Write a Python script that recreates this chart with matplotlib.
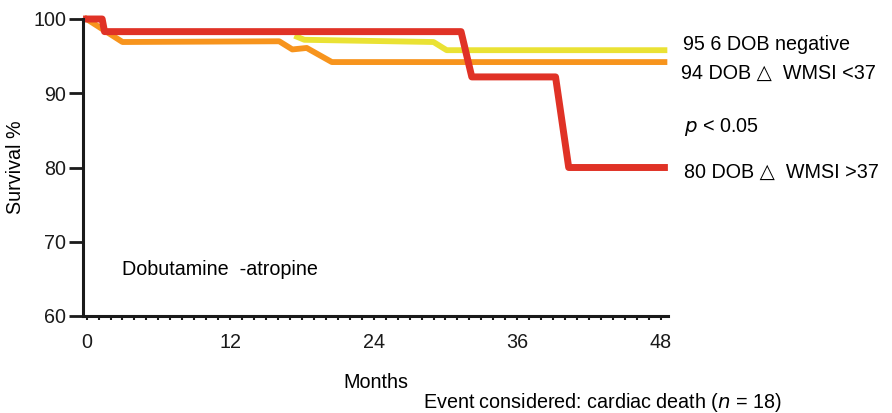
import numpy as np
import matplotlib
matplotlib.use("Agg")
from matplotlib import pyplot as plt

plt.rcParams['font.family'] = ['Liberation Sans', 'DejaVu Sans']

# Kaplan-Meier style curves (months, survival %)
neg_months = [17.6, 18.2, 29.0, 30.1, 48.3]
neg_surv = [97.6, 97.2, 96.9, 95.8, 95.8]

low_months = [0, 3.0, 16.1, 17.2, 18.4, 20.5, 48.3]
low_surv = [100, 96.9, 97.0, 95.9, 96.1, 94.2, 94.2]

high_months = [0, 1.3, 1.5, 31.3, 32.2, 39.2, 40.3, 48.3]
high_surv = [100, 100, 98.3, 98.3, 92.2, 92.2, 80.0, 80.0]

x_ticks = [0, 12, 24, 36, 48]
y_ticks = [60, 70, 80, 90, 100]

labels = ["95 6 DOB negative", "94 DOB \u25b3  WMSI <37", "80 DOB \u25b3  WMSI >37"]
colors = ["#EAE234", "#F7941D", "#E03226"]

FS = 14.2
W, H = 892, 413
fig = plt.figure(figsize=(W / 100, H / 100), dpi=100)
ax = fig.add_axes([83 / W, (H - 316) / H, (668 - 83) / W, (316 - 19) / H])

ax.plot(neg_months, neg_surv, color=colors[0], lw=4.2, solid_joinstyle='round', clip_on=False)
ax.plot(low_months, low_surv, color=colors[1], lw=4.2, solid_joinstyle='round', clip_on=False)
ax.plot(high_months, high_surv, color=colors[2], lw=5, solid_joinstyle='round', clip_on=False)

ax.set_xlim(-0.3, 48.6)
ax.set_ylim(60, 100)
for s in ['top', 'right']:
    ax.spines[s].set_visible(False)
for s in ['left', 'bottom']:
    ax.spines[s].set_linewidth(2.2)
    ax.spines[s].set_color('#1a1a1a')

ax.set_yticks(y_ticks)
ax.tick_params(axis='y', length=10, width=2, labelsize=FS, pad=2, colors='#1a1a1a')
ax.set_xticks(x_ticks)
ax.set_xticks(np.arange(0, 49, 1), minor=True)
ax.tick_params(axis='x', which='both', length=3, width=1.5, labelsize=FS, pad=9, colors='#1a1a1a')

ax.set_xlabel("Months", fontsize=FS, labelpad=15)
ax.set_ylabel("Survival %", fontsize=FS, labelpad=6)

ax.text(3, 66.2, "Dobutamine  -atropine", fontsize=FS, va='center')

def ftext(x, y, s, **kw):
    fig.text(x / W, 1 - y / H, s, fontsize=FS, va='center', **kw)

ftext(683, 44, labels[0])
ftext(681, 73, labels[1])
ftext(684, 127, r"$p$ < 0.05")
ftext(684, 172, labels[2])
ftext(423, 402, r"Event considered: cardiac death ($n$ = 18)")

fig.savefig("out.png", dpi=100)
